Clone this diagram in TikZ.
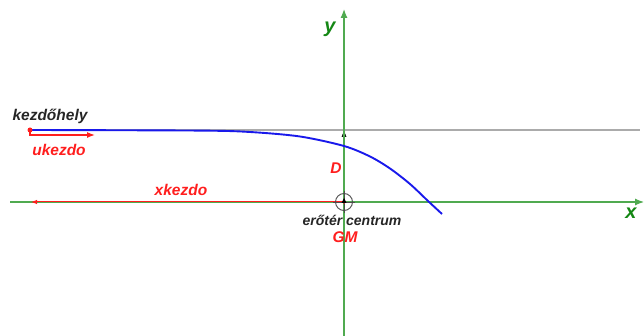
\documentclass[tikz,border=0pt]{standalone}
\usepackage{fontspec}
\setmainfont{Liberation Sans}
\usetikzlibrary{arrows.meta}
\definecolor{axgreen}{RGB}{80,170,80}
\definecolor{lblgreen}{RGB}{20,135,20}
\definecolor{myred}{RGB}{255,30,30}
\definecolor{myblue}{RGB}{25,25,235}
\definecolor{mygray}{RGB}{150,150,150}
\tikzset{
  axis/.style={draw=axgreen, line width=1.2pt},
  axlabel/.style={text=lblgreen, font=\fontsize{20}{22}\selectfont\bfseries\itshape},
  redlbl/.style={text=myred, font=\fontsize{15.5}{17}\selectfont\bfseries\itshape},
  blklbl/.style={text=black!85, font=\fontsize{15.5}{17}\selectfont\bfseries\itshape},
  ctrlbl/.style={text=black!85, font=\fontsize{14}{16}\selectfont\bfseries\itshape},
  redarrow/.style={draw=myred, line width=1pt, -{Latex[length=6pt,width=4.5pt]}},
}
\begin{document}
\begin{tikzpicture}[x=1pt,y=-1pt]
\useasboundingbox (0,0) rectangle (644,336);
% key points
\coordinate (O) at (344,202);
\coordinate (S) at (30,130);
\coordinate (T) at (344,130);
\coordinate (Gend) at (640,130);
\coordinate (Xl) at (10,202);
\coordinate (Xr) at (644,202);
\coordinate (Yb) at (344,336);
\coordinate (Yt) at (344,9);
\coordinate (Xk) at (31,202);
\coordinate (Uk) at (95,135);
% gray start line
\draw[draw=mygray!80, line width=1.8pt] (S) -- (Gend);
% D arrow
\draw[black, line width=0.5pt, -{Latex[length=7pt,width=5pt]}] (O) -- (T);
% axes
\draw[axis, -{Latex[length=9pt,width=7pt]}] (Xl) -- (Xr);
\draw[axis, -{Latex[length=9pt,width=7pt]}] (Yb) -- (Yt);
% xkezdo arrow
\draw[redarrow] (O) -- (Xk);
% trajectory
\draw[myblue, line width=1.9pt] plot[smooth, tension=0.5] coordinates {(30,130) (200,130.6) (250,132) (300,136.5) (344,146) (370,156.5) (390,168.5) (410,184) (428,201) (442,214)};
% ukezdo arrow
\fill[myred] (S) circle (2.5pt);
\draw[redarrow, line width=1.3pt, -{Latex[length=8pt,width=6pt]}] (S) |- (Uk);
% center marker
\draw[black!70, line width=0.9pt] (O) circle (8.5);
\draw[black!70, line width=0.9pt] (333,202) -- (355,202) (344,191) -- (344,213);
\fill[myred] (O) circle (1.8pt);
\fill[black] (344,198) -- (341.5,203) -- (346.5,203) -- cycle;
% labels
\node[axlabel] (ylab) at (330,29) {y};
\node[axlabel] (xlab) at (631,213) {x};
\node[blklbl] (kez) at (50,116) {kezdőhely};
\node[redlbl] (uk) at (59,150) {ukezdo};
\node[redlbl] (xk) at (181,190) {xkezdo};
\node[redlbl] (D) at (336,168) {D};
\node[ctrlbl] (ec) at (352,220) {erőtér centrum};
\node[redlbl] (gm) at (345,237) {GM};
\end{tikzpicture}
\end{document}
